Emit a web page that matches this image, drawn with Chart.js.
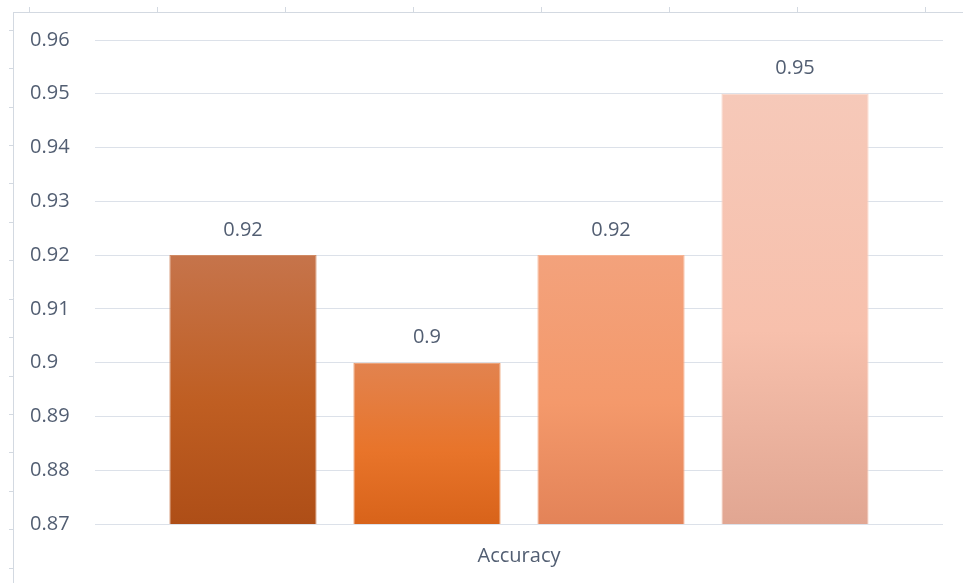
<!doctype html>
<html lang="en">
  <head>
    <meta charset="UTF-8">
    <title>Accuracy</title>
    <script src="https://cdn.jsdelivr.net/npm/chart.js@4.4.0/dist/chart.umd.min.js"></script>
    <style>
      html, body { margin:0; padding:0; background:#fff; }
      #wrap { width:963px; height:583px; }
    </style>
  </head>
  <body>
    <div id="wrap"><canvas id="acc-chart"></canvas></div>

    <script>
      // chart data
      var categories = ['Accuracy'];
      var seriesNames = ['Model 1', 'Model 2', 'Model 3', 'Model 4'];
      var seriesValues = [0.92, 0.90, 0.92, 0.95];
      var yTicks = [0.87, 0.88, 0.89, 0.90, 0.91, 0.92, 0.93, 0.94, 0.95, 0.96];

      // gradient stops (top, middle, bottom) for each bar
      var barGradients = [
        ['#C6744B', '#BF5E22', '#AE4E17'],
        ['#E2834F', '#E8742A', '#D8631A'],
        ['#F3A27C', '#F4996B', '#E38358'],
        ['#F6C9B9', '#F7C0AC', '#E1A692']
      ];
      var barBorders = ['#D08A64', '#EC9866', '#F6B493', '#FAD6C8'];

      var textColor = '#525E72';
      var fontFamily = '"Open Sans", "Noto Sans", sans-serif';

      function fmt(v) { return String(Number(Number(v).toFixed(2))); }

      function barFill(ctx) {
        var stops = barGradients[ctx.datasetIndex];
        var chart = ctx.chart;
        if (!chart.chartArea || ctx.raw === undefined) return stops[1];
        var ys = chart.scales.y;
        var top = ys.getPixelForValue(ctx.raw);
        var bottom = ys.getPixelForValue(ys.min);
        var g = chart.ctx.createLinearGradient(0, top, 0, bottom);
        g.addColorStop(0, stops[0]);
        g.addColorStop(0.55, stops[1]);
        g.addColorStop(1, stops[2]);
        return g;
      }

      // light sheet frame round the chart
      var framePlugin = {
        id: 'frame',
        beforeDraw: function(chart) {
          var c = chart.ctx;
          c.save();
          c.strokeStyle = '#D3D9E1';
          c.lineWidth = 1;
          c.beginPath();
          c.moveTo(13, 12.5); c.lineTo(chart.width, 12.5);
          c.moveTo(13.5, 12); c.lineTo(13.5, chart.height);
          for (var x = 29.5; x < chart.width; x += 128) { c.moveTo(x, 7); c.lineTo(x, 12); }
          for (var y = 29.7; y < chart.height; y += 38.43) {
            var yy = Math.round(y) + 0.5;
            c.moveTo(9, yy); c.lineTo(13, yy);
          }
          c.stroke();
          c.restore();
        }
      };

      // value labels above the bars
      var valueLabels = {
        id: 'valueLabels',
        afterDatasetsDraw: function(chart) {
          var c = chart.ctx;
          c.save();
          c.fillStyle = textColor;
          c.font = '20px ' + fontFamily;
          c.textAlign = 'center';
          c.textBaseline = 'middle';
          chart.data.datasets.forEach(function(ds, i) {
            var bar = chart.getDatasetMeta(i).data[0];
            c.fillText(fmt(ds.data[0]), bar.x, bar.y - 25);
          });
          c.restore();
        }
      };

      var datasets = seriesNames.map(function(name, i) {
        return {
          label: name,
          data: [seriesValues[i]],
          backgroundColor: barFill,
          borderColor: barBorders[i],
          borderWidth: 1,
          borderSkipped: false
        };
      });

      var accChart = new Chart(document.getElementById('acc-chart'), {
        type: 'bar',
        data: { labels: categories, datasets: datasets },
        options: {
          responsive: true,
          maintainAspectRatio: false,
          animation: false,
          devicePixelRatio: 1,
          categoryPercentage: 0.868,
          barPercentage: 0.8,
          layout: { padding: { left: 30, right: 20, top: 40, bottom: 0 } },
          scales: {
            x: {
              grid: { display: false, drawTicks: false },
              border: { display: false },
              ticks: {
                color: textColor,
                padding: 20,
                font: { family: fontFamily, size: 20 }
              },
              afterFit: function(scale) { scale.height = 59; }
            },
            y: {
              min: yTicks[0],
              max: yTicks[yTicks.length - 1],
              afterBuildTicks: function(scale) {
                scale.ticks = yTicks.map(function(v) { return { value: v }; });
              },
              grid: { color: '#DCE1E9', drawTicks: false, lineWidth: 1 },
              border: { display: false },
              ticks: {
                color: textColor,
                crossAlign: 'far',
                padding: 0,
                font: { family: fontFamily, size: 20 },
                callback: function(v) { return fmt(v); }
              },
              afterFit: function(scale) { scale.width = 65; }
            }
          },
          plugins: {
            legend: { display: false },
            tooltip: { enabled: false }
          }
        },
        plugins: [framePlugin, valueLabels]
      });
    </script>
  </body>
</html>
